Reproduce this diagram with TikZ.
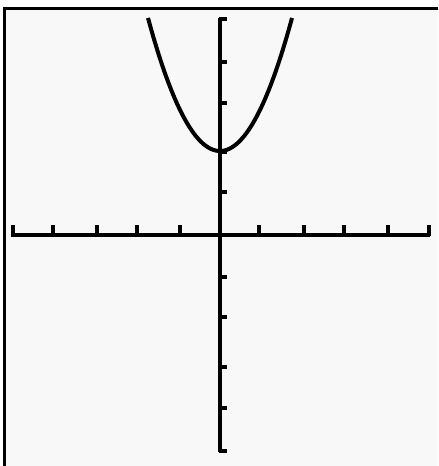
\documentclass[tikz,border=0pt]{standalone}
\definecolor{lcdbg}{RGB}{248,248,248}
\tikzset{
  axis/.style={line width=3pt, black},
  tickmark/.style={line width=3pt, black},
  curve/.style={line width=3pt, black, line join=round},
  frameline/.style={line width=2.3pt, black}
}
\begin{document}
\begin{tikzpicture}[x=0.75pt, y=-0.75pt]
\useasboundingbox (0,0) rectangle (438,466);
\fill[white] (0,0) rectangle (438,466);
\fill[lcdbg] (6,10) rectangle (438,466);
% frame (top and left)
\draw[frameline] (3,8.5) -- (438,8.5);
\draw[frameline] (4.5,7) -- (4.5,466);
% axes
\coordinate (xl) at (11,235);
\coordinate (xr) at (430,235);
\coordinate (yt) at (220,18);
\coordinate (yb) at (220,452);
\draw[axis] (xl) -- (xr);
\draw[axis] (yt) -- (yb);
% x ticks (upward)
\foreach \x in {12.5,53,97,137,180,259,304,344,388,428.5}
  \draw[tickmark] (\x,236) -- (\x,225);
% y ticks (to the right)
\foreach \y in {19.5,62,103,152,192,277,317,367,408,450.5}
  \draw[tickmark] (219,\y) -- (227,\y);
% parabola
\draw[curve] plot[domain=-72:72, samples=80, variable=\t] ({220+\t},{151-0.02566*\t*\t});
\end{tikzpicture}
\end{document}
